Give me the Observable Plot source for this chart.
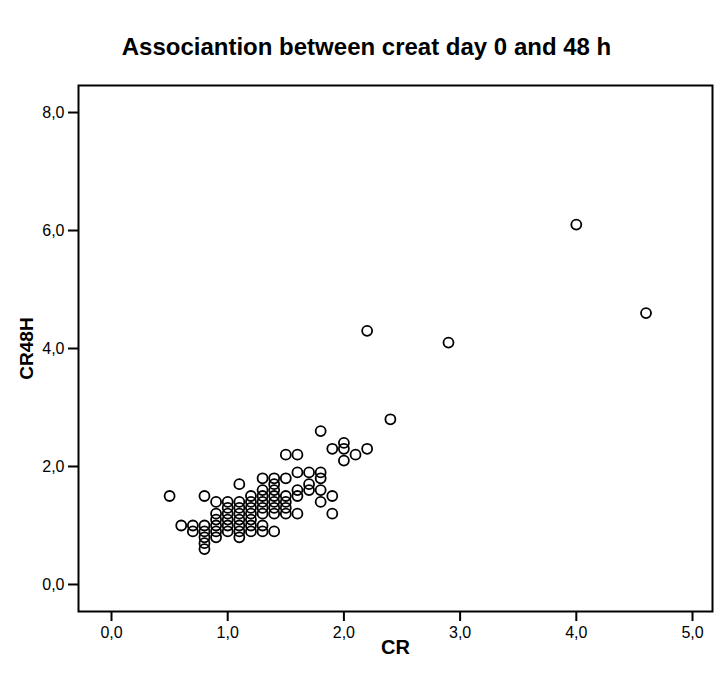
<!DOCTYPE html>
<html>
<head>
<meta charset="utf-8">
<script src="https://cdn.jsdelivr.net/npm/d3@7"></script>
<script src="https://cdn.jsdelivr.net/npm/@observablehq/plot@0.6"></script>
<style>
  html, body { margin: 0; padding: 0; background: #fff; }
  body { width: 721px; height: 677px; font-family: "Liberation Sans", Arial, sans-serif; }
  #title { height: 70px; box-sizing: border-box; padding-top: 33px; line-height: 28px; text-align: center; font-weight: bold; font-size: 24px; color: #000; padding-left: 12px; }
  #chart svg text { fill: #000; }
  #chart svg g[aria-label$="tick label"] text { font-size: 16px !important; }
</style>
</head>
<body>
<div id="title">Associantion between creat day 0 and 48 h</div>
<div id="chart"></div>
<script>
const cr = [
  0.5, 0.6, 0.7, 0.7,
  0.8, 0.8, 0.8, 0.8, 0.8, 0.8,
  0.9, 0.9, 0.9, 0.9, 0.9, 0.9,
  1.0, 1.0, 1.0, 1.0, 1.0, 1.0,
  1.1, 1.1, 1.1, 1.1, 1.1, 1.1, 1.1, 1.1,
  1.2, 1.2, 1.2, 1.2, 1.2, 1.2, 1.2,
  1.3, 1.3, 1.3, 1.3, 1.3, 1.3, 1.3, 1.3,
  1.4, 1.4, 1.4, 1.4, 1.4, 1.4, 1.4, 1.4,
  1.5, 1.5, 1.5, 1.5, 1.5, 1.5,
  1.6, 1.6, 1.6, 1.6, 1.6,
  1.7, 1.7, 1.7,
  1.8, 1.8, 1.8, 1.8, 1.8,
  1.9, 1.9, 1.9,
  2.0, 2.0, 2.0,
  2.1,
  2.2, 2.2,
  2.4, 2.9, 4.0, 4.6
];
const cr48h = [
  1.5, 1.0, 1.0, 0.9,
  1.5, 1.0, 0.9, 0.8, 0.7, 0.6,
  1.4, 1.2, 1.1, 1.0, 0.9, 0.8,
  1.4, 1.3, 1.2, 1.1, 1.0, 0.9,
  1.7, 1.4, 1.3, 1.2, 1.1, 1.0, 0.9, 0.8,
  1.5, 1.4, 1.3, 1.2, 1.1, 1.0, 0.9,
  1.8, 1.6, 1.5, 1.4, 1.3, 1.2, 1.0, 0.9,
  1.8, 1.7, 1.6, 1.5, 1.4, 1.3, 1.2, 0.9,
  2.2, 1.8, 1.5, 1.4, 1.3, 1.2,
  2.2, 1.9, 1.6, 1.5, 1.2,
  1.9, 1.7, 1.6,
  2.6, 1.9, 1.8, 1.6, 1.4,
  2.3, 1.5, 1.2,
  2.4, 2.3, 2.1,
  2.2,
  2.3, 4.3,
  2.8, 4.1, 6.1, 4.6
];
const xTicks = [0, 1, 2, 3, 4, 5];
const yTicks = [0, 2, 4, 6, 8];
const xLabel = "CR";
const yLabel = "CR48H";

const data = cr.map((v, i) => ({cr: v, cr48h: cr48h[i]}));
const fmt = d => d3.format(".1f")(d).replace(".", ",");

const chart = Plot.plot({
  width: 721,
  height: 607,
  marginLeft: 78,
  marginRight: 9,
  marginTop: 15,
  marginBottom: 66,
  style: {fontFamily: "'Liberation Sans', Arial, sans-serif", fontSize: "16px", color: "#000", background: "#fff"},
  x: {domain: [-0.284, 5.172]},
  y: {domain: [-0.458, 8.458]},
  marks: [
    Plot.axisX({ticks: xTicks, tickFormat: fmt, tickSize: 10, tickPadding: 5, strokeWidth: 2, label: null, fontSize: 16}),
    Plot.axisY({ticks: yTicks, tickFormat: fmt, tickSize: 10, tickPadding: 4, strokeWidth: 2, label: null, fontSize: 16}),
    Plot.frame({stroke: "#000", strokeWidth: 2}),
    Plot.dot(data, {x: "cr", y: "cr48h", r: 5, stroke: "#000", strokeWidth: 1.8, fill: "none"}),
    Plot.text([xLabel], {frameAnchor: "bottom", dy: 42, text: d => d, fontWeight: "bold", fontSize: 20}),
    Plot.text([yLabel], {frameAnchor: "left", dx: -52, rotate: -90, textAnchor: "middle", text: d => d, fontWeight: "bold", fontSize: 19})
  ]
});
document.getElementById("chart").appendChild(chart);
</script>
</body>
</html>
